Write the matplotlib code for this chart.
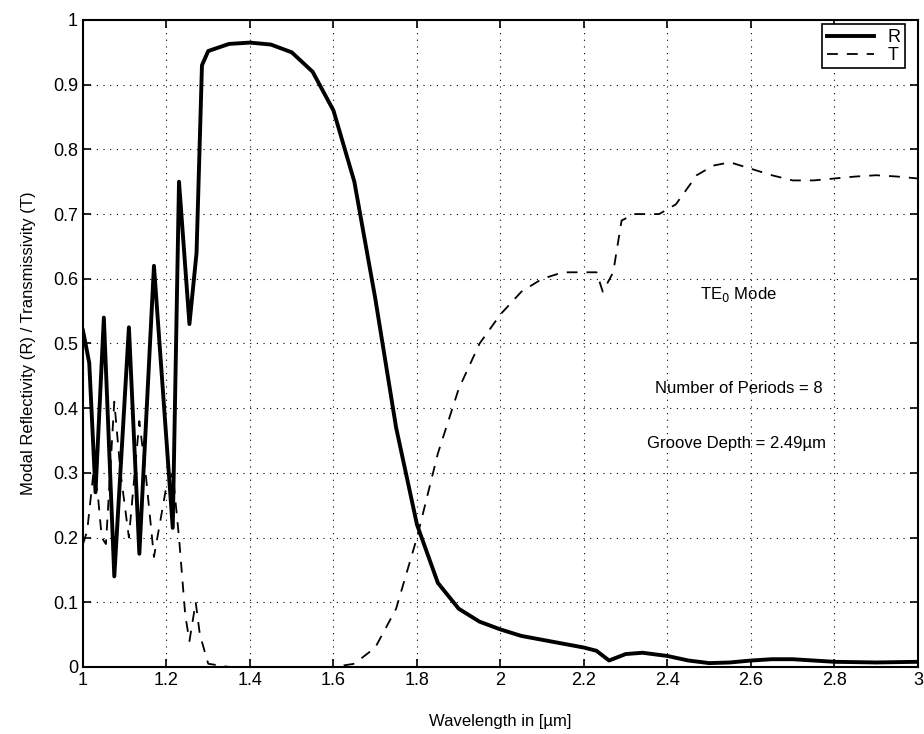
import matplotlib
matplotlib.use("Agg")
import matplotlib.pyplot as plt

plt.rcParams['font.family'] = ['Liberation Sans', 'DejaVu Sans']

# reflectivity R (solid)
r_wl = [1.0, 1.015, 1.03, 1.05, 1.075, 1.11, 1.135, 1.17, 1.215, 1.23, 1.255, 1.272,
        1.285, 1.30, 1.35, 1.40, 1.45, 1.50, 1.55, 1.60, 1.65, 1.70, 1.75, 1.80,
        1.85, 1.90, 1.95, 2.00, 2.05, 2.10, 2.15, 2.20, 2.23, 2.26, 2.30, 2.34,
        2.40, 2.45, 2.50, 2.55, 2.60, 2.65, 2.70, 2.80, 2.90, 3.00]
r_val = [0.52, 0.47, 0.27, 0.54, 0.14, 0.525, 0.175, 0.62, 0.215, 0.75, 0.53, 0.64,
         0.93, 0.952, 0.963, 0.965, 0.962, 0.95, 0.92, 0.86, 0.75, 0.57, 0.37, 0.22,
         0.13, 0.09, 0.07, 0.058, 0.048, 0.042, 0.036, 0.03, 0.025, 0.01, 0.02, 0.022,
         0.017, 0.01, 0.006, 0.007, 0.01, 0.012, 0.012, 0.008, 0.007, 0.008]

# transmissivity T (dashed)
t_wl = [1.0, 1.01, 1.025, 1.035, 1.045, 1.055, 1.075, 1.09, 1.11, 1.135, 1.15, 1.17,
        1.20, 1.215, 1.23, 1.245, 1.255, 1.27, 1.28, 1.30, 1.35, 1.45, 1.55, 1.60,
        1.65, 1.70, 1.75, 1.80, 1.85, 1.90, 1.95, 2.00, 2.05, 2.10, 2.15, 2.20,
        2.23, 2.245, 2.27, 2.29, 2.32, 2.38, 2.42, 2.47, 2.51, 2.55, 2.60, 2.65,
        2.70, 2.75, 2.80, 2.85, 2.90, 2.95, 3.00]
t_val = [0.19, 0.21, 0.30, 0.27, 0.20, 0.19, 0.41, 0.30, 0.20, 0.38, 0.30, 0.17,
         0.28, 0.30, 0.20, 0.08, 0.04, 0.10, 0.05, 0.005, 0.0, 0.0, 0.0, 0.0,
         0.005, 0.03, 0.09, 0.20, 0.33, 0.43, 0.50, 0.545, 0.58, 0.60, 0.61, 0.61,
         0.61, 0.58, 0.61, 0.69, 0.70, 0.70, 0.715, 0.76, 0.775, 0.78, 0.77, 0.76,
         0.752, 0.752, 0.755, 0.758, 0.76, 0.758, 0.755]

xticks = [1, 1.2, 1.4, 1.6, 1.8, 2, 2.2, 2.4, 2.6, 2.8, 3]
xticklabels = ['1', '1.2', '1.4', '1.6', '1.8', '2', '2.2', '2.4', '2.6', '2.8', '3']
yticks = [0, 0.1, 0.2, 0.3, 0.4, 0.5, 0.6, 0.7, 0.8, 0.9, 1]
yticklabels = ['0', '0.1', '0.2', '0.3', '0.4', '0.5', '0.6', '0.7', '0.8', '0.9', '1']

fig = plt.figure(figsize=(9.24, 7.34), dpi=100)
ax = fig.add_axes([0.0898, 0.0913, 0.9037, 0.8815])

ax.plot(r_wl, r_val, color='black', lw=2.8, label='R')
ax.plot(t_wl, t_val, color='black', lw=1.3, ls=(0, (6, 5)), label='T')

ax.set_xlim(1, 3)
ax.set_ylim(0, 1)
ax.set_xticks(xticks)
ax.set_xticklabels(xticklabels)
ax.set_yticks(yticks)
ax.set_yticklabels(yticklabels)
ax.tick_params(direction='in', top=True, right=True, labelsize=13, length=6, width=1.2)
ax.grid(True, ls=(0, (1, 5)), color='black', lw=0.8)
for s in ax.spines.values():
    s.set_linewidth(1.5)

ax.set_xlabel('Wavelength in [\u00b5m]', fontsize=12, labelpad=18)
ax.set_ylabel('Modal Reflectivity (R) / Transmissivity (T)', fontsize=12, labelpad=12)

ax.text(2.57, 0.575, 'TE$_0$ Mode', ha='center', va='center', fontsize=12)
ax.text(2.57, 0.43, 'Number of Periods = 8', ha='center', va='center', fontsize=12)
ax.text(2.565, 0.345, 'Groove Depth = 2.49\u00b5m', ha='center', va='center', fontsize=12)

leg = ax.legend(loc='upper right', bbox_to_anchor=(0.985, 0.993), fontsize=13,
                handlelength=2.6, fancybox=False, edgecolor='black', framealpha=1,
                borderpad=0.25, labelspacing=0.05, handletextpad=0.8, borderaxespad=0.0)
leg.get_frame().set_linewidth(1.2)

fig.savefig('out.png', dpi=100)
